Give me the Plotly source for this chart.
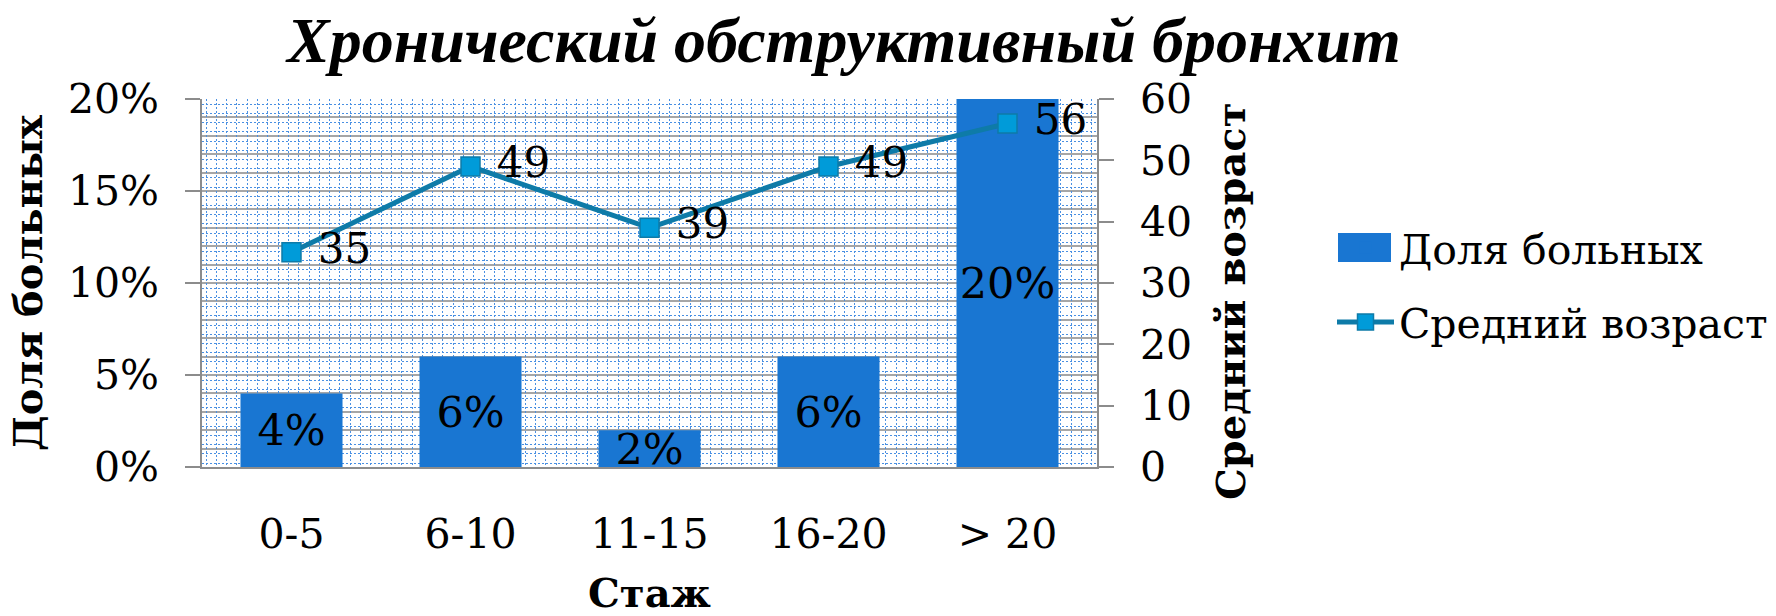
import plotly.graph_objects as go

# ---- data ----
categories = ["0-5", "6-10", "11-15", "16-20", "> 20"]
share_patients = [0.04, 0.06, 0.02, 0.06, 0.20]
mean_age = [35, 49, 39, 49, 56]
share_labels = ["4%", "6%", "2%", "6%", "20%"]
pct_ticks = [0, 0.05, 0.10, 0.15, 0.20]
pct_ticktext = ["0%", "5%", "10%", "15%", "20%"]
age_ticks = [0, 10, 20, 30, 40, 50, 60]

title_text = "Хронический обструктивный бронхит"
x_title = "Стаж"
y_title = "Доля больных"
y2_title = "Средний возраст"

# ---- style ----
W, H = 1776, 616
ML, MT = 202, 99
PW, PH = 895, 368
MR, MB = W - ML - PW, H - MT - PH
SERIF = "DejaVu Serif"
TITLE_FONT = "Liberation Serif"
BAR_COLOR = "#1976D2"
LINE_COLOR = "#0E7BA8"
MARKER_FILL = "#009BD9"
AXIS_GRAY = "#8C8C8C"
GRID_GRAY = "#A6A6A6"
PATTERN_BLUE = "#4A90E2"
TICK_SIZE = 41


def px_x(px):
    return (px - ML) / PW


def px_y(py):
    return (MT + PH - py) / PH


fig = go.Figure()

fig.add_trace(go.Bar(
    x=categories, y=share_patients, name=y_title,
    marker=dict(color=BAR_COLOR, line=dict(width=0)),
    text=share_labels, textposition="inside", insidetextanchor="middle",
    constraintext="none",
    textfont=dict(family=SERIF, size=43, color="black"),
    legendgroup="g1", hoverinfo="skip",
))

fig.add_trace(go.Scatter(
    x=categories, y=mean_age, name=y2_title, yaxis="y2",
    mode="lines+markers+text",
    line=dict(color=LINE_COLOR, width=5),
    marker=dict(symbol="square", size=19, color=MARKER_FILL,
                line=dict(color=LINE_COLOR, width=1.5)),
    text=[str(v) for v in mean_age], texttemplate=" %{text}",
    textposition="middle right",
    textfont=dict(family=SERIF, size=42, color="black"),
    legendgroup="g2", hoverinfo="skip",
))

# invisible trace to host the background pattern grid
fig.add_trace(go.Scatter(x=[], y=[], xaxis="x3", yaxis="y3",
                         showlegend=False, hoverinfo="skip"))

fig.update_layout(
    width=W, height=H,
    margin=dict(l=ML, r=MR, t=MT, b=MB, pad=0, autoexpand=False),
    paper_bgcolor="white", plot_bgcolor="white",
    bargap=0.43,
    hovermode=False,
    title=dict(text=title_text, x=844 / W, xanchor="center",
               y=1 - 40 / H, yanchor="middle", yref="container",
               font=dict(family=TITLE_FONT, size=64, color="black",
                         weight="bold", style="italic")),
    xaxis=dict(
        type="category", categoryorder="array", categoryarray=categories,
        showline=True, linecolor=AXIS_GRAY, linewidth=1.5,
        ticks="", showgrid=False, zeroline=False, automargin=False,
        tickfont=dict(family=SERIF, size=TICK_SIZE, color="black"),
        ticklabelstandoff=30,
        title=dict(text=x_title, standoff=30,
                   font=dict(family=SERIF, size=40, color="black", weight="bold")),
    ),
    yaxis=dict(
        range=[0, 0.2], tickvals=pct_ticks, ticktext=pct_ticktext,
        showline=True, linecolor=AXIS_GRAY, linewidth=1.5,
        ticks="outside", ticklen=15, tickcolor=AXIS_GRAY, tickwidth=1.5,
        showgrid=True, gridcolor=GRID_GRAY, gridwidth=1.5, zeroline=False,
        minor=dict(dtick=0.01, showgrid=True, gridcolor=GRID_GRAY,
                   gridwidth=1.5, ticks=""),
        automargin=False,
        tickfont=dict(family=SERIF, size=TICK_SIZE, color="black"),
        ticklabelstandoff=18,
        title=dict(text=y_title, standoff=13,
                   font=dict(family=SERIF, size=40, color="black", weight="bold")),
    ),
    yaxis2=dict(
        overlaying="y", side="right", range=[0, 60], tickvals=age_ticks,
        showline=True, linecolor=AXIS_GRAY, linewidth=1.5,
        ticks="outside", ticklen=15, tickcolor=AXIS_GRAY, tickwidth=1.5,
        showgrid=False, zeroline=False, automargin=False,
        tickfont=dict(family=SERIF, size=TICK_SIZE, color="black"),
        ticklabelstandoff=18,
    ),
    xaxis3=dict(
        overlaying="x", anchor="y3", range=[0, PW], dtick=10.3, tick0=4,
        showgrid=True, gridcolor=PATTERN_BLUE, gridwidth=1, griddash="2px,2px",
        showticklabels=False, ticks="", zeroline=False, showline=False,
        automargin=False,
    ),
    yaxis3=dict(
        overlaying="y", anchor="x3", range=[0, PH], dtick=9.2, tick0=4,
        showgrid=True, gridcolor=PATTERN_BLUE, gridwidth=1, griddash="2px,2px",
        showticklabels=False, ticks="", zeroline=False, showline=False,
        automargin=False,
    ),
    legend=dict(
        x=px_x(1332), xanchor="left",
        y=px_y(285), yanchor="middle",
        font=dict(family=SERIF, size=41, color="black"),
        itemwidth=57, tracegroupgap=18, bgcolor="rgba(0,0,0,0)",
    ),
    shapes=[dict(
        type="rect", xref="paper", yref="paper", layer="above",
        x0=px_x(1338), x1=px_x(1391), y0=px_y(262), y1=px_y(233),
        fillcolor=BAR_COLOR, line=dict(width=0),
    )],
    annotations=[dict(
        text=y2_title, textangle=-90, showarrow=False,
        xref="paper", yref="paper", x=px_x(1230), y=px_y(302),
        xanchor="center", yanchor="middle",
        font=dict(family=SERIF, size=40, color="black", weight="bold"),
    )],
)

fig.write_html("out.html", config={"displayModeBar": False},
               post_script="document.body.style.margin='0';")
